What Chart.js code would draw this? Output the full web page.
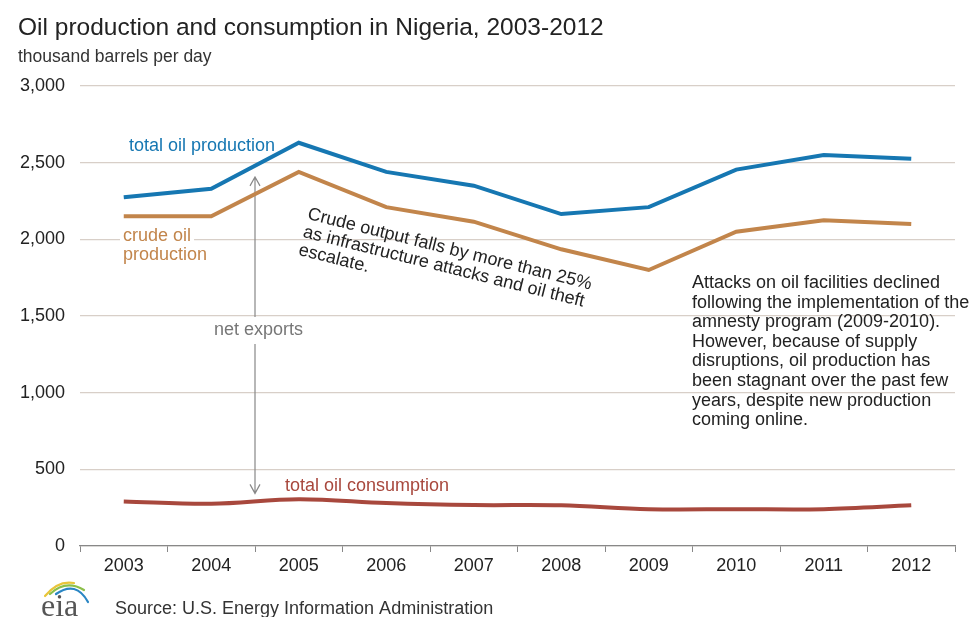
<!DOCTYPE html>
<html>
<head>
<meta charset="utf-8">
<script src="https://cdn.jsdelivr.net/npm/chart.js@4"></script>
<style>
  html, body { margin: 0; padding: 0; background: #fff; }
  #wrap { position: relative; width: 971px; height: 617px; }
</style>
</head>
<body>
<div id="wrap"><canvas id="oilChart" width="971" height="617"></canvas></div>
<script>
const years = ['2003', '2004', '2005', '2006', '2007', '2008', '2009', '2010', '2011', '2012'];
const totalProduction = [2275, 2330, 2630, 2440, 2350, 2165, 2210, 2455, 2550, 2525];
const crudeProduction = [2150, 2150, 2440, 2210, 2115, 1935, 1800, 2050, 2125, 2100];
const totalConsumption = [290, 275, 305, 280, 267, 265, 240, 240, 240, 265];
const yTicks = [0, 500, 1000, 1500, 2000, 2500, 3000];

const FONT = '"Liberation Sans", Arial, sans-serif';
const BLUE = '#1677b2', ORANGE = '#c2854b', RED = '#a8483d';

function labelBox(ctx, text, x, y, color) {
  ctx.font = `18px ${FONT}`;
  const w = ctx.measureText(text).width;
  ctx.fillStyle = '#fff';
  ctx.fillRect(x - 3, y - 11, w + 6, 22);
  ctx.fillStyle = color;
  ctx.textBaseline = 'middle';
  ctx.textAlign = 'left';
  ctx.fillText(text, x, y);
}

const notes = {
  id: 'notes',
  beforeDatasetsDraw(chart) {
    const ctx = chart.ctx;
    const x = chart.scales.x, y = chart.scales.y;
    ctx.save();
    labelBox(ctx, 'total oil production', 129, 146, BLUE);
    labelBox(ctx, 'crude oil', 123, 236, ORANGE);
    labelBox(ctx, 'production', 123, 255, ORANGE);
    labelBox(ctx, 'net exports', 214, 330, '#777');
    labelBox(ctx, 'total oil consumption', 285, 486, RED);

    // double arrow for net exports
    const ax = (x.getPixelForValue(1) + x.getPixelForValue(2)) / 2;
    const top = y.getPixelForValue(2440) + 5, bot = y.getPixelForValue(330) - 2;
    ctx.strokeStyle = '#888';
    ctx.lineWidth = 1.2;
    ctx.beginPath();
    ctx.moveTo(ax, top); ctx.lineTo(ax, 317);
    ctx.moveTo(ax, 344); ctx.lineTo(ax, bot);
    ctx.moveTo(ax - 5, top + 9); ctx.lineTo(ax, top); ctx.lineTo(ax + 5, top + 9);
    ctx.moveTo(ax - 5, bot - 9); ctx.lineTo(ax, bot); ctx.lineTo(ax + 5, bot - 9);
    ctx.stroke();

    // rotated annotation
    ctx.save();
    ctx.translate(308, 214);
    ctx.rotate(14 * Math.PI / 180);
    ctx.font = `18px ${FONT}`;
    ctx.fillStyle = '#222';
    ctx.textBaseline = 'middle';
    ctx.fillText('Crude output falls by more than 25%', 0, 0);
    ctx.fillText('as infrastructure attacks and oil theft', 0, 18.5);
    ctx.fillText('escalate.', 0, 37);
    ctx.restore();

    const lines = ['Attacks on oil facilities declined', 'following the implementation of the',
      'amnesty program (2009-2010).', 'However, because of supply',
      'disruptions, oil production has', 'been stagnant over the past few',
      'years, despite new production', 'coming online.'];
    ctx.font = `18px ${FONT}`;
    ctx.fillStyle = '#222';
    ctx.textBaseline = 'middle';
    lines.forEach((l, i) => ctx.fillText(l, 692, 283 + i * 19.6));
    ctx.restore();
  },
  afterDraw(chart) {
    const ctx = chart.ctx;
    ctx.save();
    ctx.textAlign = 'left';
    ctx.textBaseline = 'alphabetic';
    ctx.fillStyle = '#222';
    ctx.font = `24.5px ${FONT}`;
    ctx.fillText('Oil production and consumption in Nigeria, 2003-2012', 18, 35);
    ctx.fillStyle = '#333';
    ctx.font = `17.5px ${FONT}`;
    ctx.fillText('thousand barrels per day', 18, 62);
    ctx.font = `18px ${FONT}`;
    ctx.fillText('Source: U.S. Energy Information Administration', 115, 614);

    // eia logo
    ctx.lineWidth = 2.2;
    ctx.lineCap = 'round';
    [['#e8c53a', 45, 596, 58, 580, 74, 583], ['#8cbf4a', 50, 594, 66, 579, 84, 590], ['#2a86c4', 56, 594, 76, 580, 88, 602]]
      .forEach(([c, x0, y0, cx, cy, x1, y1]) => {
        ctx.strokeStyle = c;
        ctx.beginPath();
        ctx.moveTo(x0, y0);
        ctx.quadraticCurveTo(cx, cy, x1, y1);
        ctx.stroke();
      });
    ctx.fillStyle = '#555';
    ctx.font = `32px "Liberation Serif", serif`;
    ctx.fillText('eia', 41, 616);
    ctx.restore();
  }
};

new Chart(document.getElementById('oilChart'), {
  type: 'line',
  data: {
    labels: years,
    datasets: [
      { label: 'total oil production', data: totalProduction, borderColor: BLUE, borderWidth: 4, tension: 0 },
      { label: 'crude oil production', data: crudeProduction, borderColor: ORANGE, borderWidth: 4, tension: 0 },
      { label: 'total oil consumption', data: totalConsumption, borderColor: RED, borderWidth: 4, tension: 0.35 }
    ]
  },
  options: {
    responsive: false,
    animation: false,
    events: [],
    elements: { point: { radius: 0 } },
    layout: { padding: { top: 86, right: 16, bottom: 31, left: 0 } },
    plugins: { legend: { display: false }, tooltip: { enabled: false }, title: { display: false } },
    scales: {
      x: {
        offset: true,
        afterFit: s => { s.height = 40; },
        grid: { display: true, offset: true, drawOnChartArea: false, drawTicks: true, tickLength: 6, color: '#888', lineWidth: 1 },
        border: { color: '#888', width: 1.2 },
        ticks: { font: { family: FONT, size: 18 }, color: '#222', padding: 3 }
      },
      y: {
        min: 0, max: 3000,
        afterFit: s => { s.width = 80; },
        afterBuildTicks: s => { s.ticks = yTicks.map(v => ({ value: v })); },
        grid: { color: '#d8cfc8', lineWidth: 1.2, drawTicks: false },
        border: { display: false },
        ticks: {
          font: { family: FONT, size: 18 }, color: '#222', padding: 15,
          callback: v => v.toLocaleString('en-US')
        }
      }
    }
  },
  plugins: [notes]
});
</script>
</body>
</html>
